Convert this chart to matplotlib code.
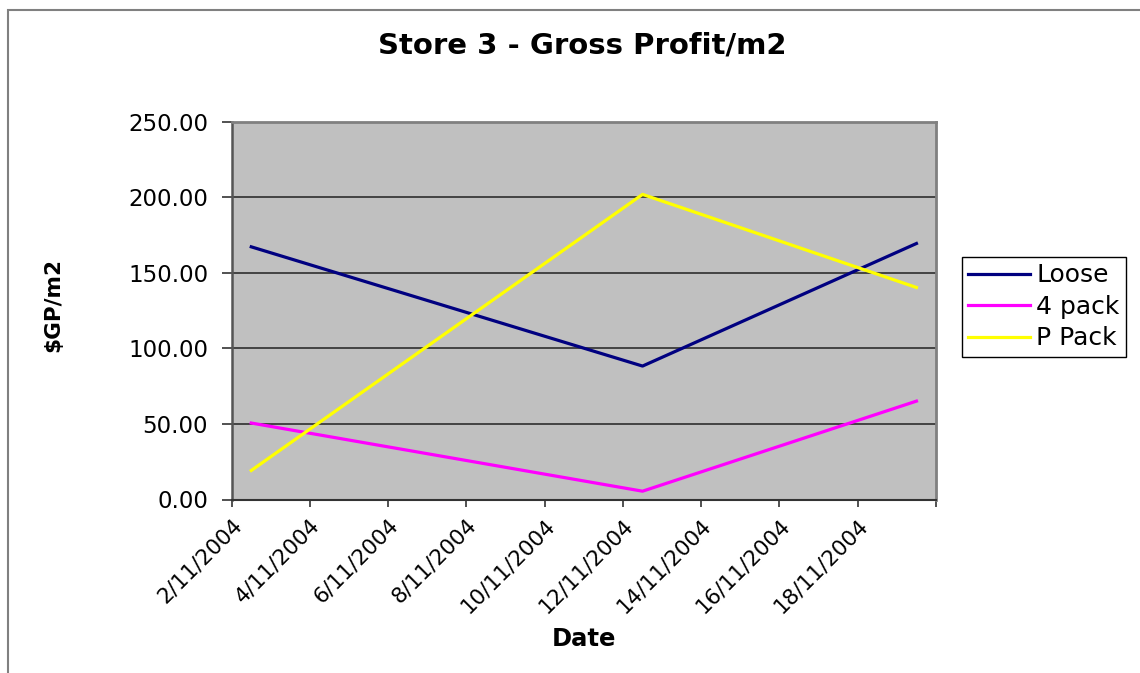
import pandas as pd
import numpy as np
import matplotlib
matplotlib.use('Agg')
import matplotlib.pyplot as plt
from matplotlib.patches import Rectangle
from matplotlib.transforms import ScaledTranslation

# data
dates = pd.to_datetime(['2004-11-02', '2004-11-12', '2004-11-19'])
loose = [167.2, 88.3, 169.4]
four_pack = [50.6, 5.5, 65.1]
p_pack = [19.2, 201.9, 140.3]
series_names = ['Loose', '4 pack', 'P Pack']
series_colors = ['#000080', '#FF00FF', '#FFFF00']
axis_start = pd.Timestamp('2004-11-02')
axis_end = pd.Timestamp('2004-11-20')
tick_dates = pd.date_range(axis_start, axis_end, freq='2D')
# excel leaves the last date tick without label
tick_labels = ['{0}/{1}/{2}'.format(d.day, d.month, d.year) for d in tick_dates[:-1]] + ['']

fig = plt.figure(figsize=(11.4, 6.73), dpi=100)
ax = fig.add_axes([231.7 / 1140, 1 - 499.5 / 673, (936 - 231.7) / 1140, (499.5 - 121.7) / 673])
ax.set_facecolor('#C0C0C0')

# points sit in the middle of their day, like excel's date axis
xpos = dates + pd.Timedelta(hours=12)
for vals, name, col in zip([loose, four_pack, p_pack], series_names, series_colors):
    ax.plot(xpos, vals, color=col, lw=2.3, label=name, solid_joinstyle='round')

ax.set_xlim(axis_start, axis_end)
ax.set_ylim(0, 250)
ax.set_yticks(np.arange(0, 251, 50))
ax.set_yticklabels(['{0:.2f}'.format(v) for v in np.arange(0, 251, 50)], fontsize=16.5)
ax.set_xticks(tick_dates)
ax.set_xticklabels(tick_labels, fontsize=15.5, rotation=45, ha='right', va='top', rotation_mode='anchor')
shift = ScaledTranslation(-15 / 100, 0, fig.dpi_scale_trans)
for lab in ax.get_xticklabels():
    lab.set_transform(lab.get_transform() + shift)
ax.tick_params(axis='y', direction='out', length=7, width=1.2, pad=10, color='#333333')
ax.tick_params(axis='x', direction='out', length=5, width=1.2, pad=6, color='#333333')
ax.grid(axis='y', color='#222222', lw=1.1)
ax.set_axisbelow(True)

for s in ['top', 'right']:
    ax.spines[s].set_color('#808080')
    ax.spines[s].set_linewidth(2)
ax.spines['left'].set_color('#555555')
ax.spines['left'].set_linewidth(1.8)
ax.spines['bottom'].set_color('#333333')
ax.spines['bottom'].set_linewidth(1.5)

ax.set_xlabel('Date', fontsize=17.5, fontweight='bold', va='center')
ax.xaxis.set_label_coords(0.5, -0.369)
ax.set_ylabel('$GP/m2', fontsize=15.5, fontweight='bold', va='center')
ax.yaxis.set_label_coords(-0.2537, 0.515)

fig.text(582 / 1140, 1 - 45 / 673, 'Store 3 - Gross Profit/m2', fontsize=21, fontweight='bold',
         ha='center', va='center')

leg = fig.legend(loc='upper left', bbox_to_anchor=(961.7 / 1140, 1 - 257 / 673), fontsize=18,
                 handlelength=2.5, handletextpad=0.24, labelspacing=0.3, borderpad=0.25,
                 borderaxespad=0, fancybox=False, framealpha=1)
leg.get_frame().set_edgecolor('black')
leg.get_frame().set_linewidth(1)

# chart area border (only left and top fall inside the picture)
fig.patches.append(Rectangle((7.5 / 1140, -0.1), 1.2, 1.1 - 10 / 673, transform=fig.transFigure,
                             fill=False, edgecolor='#808080', lw=1.5, clip_on=False))

fig.savefig('out.png', dpi=100)
